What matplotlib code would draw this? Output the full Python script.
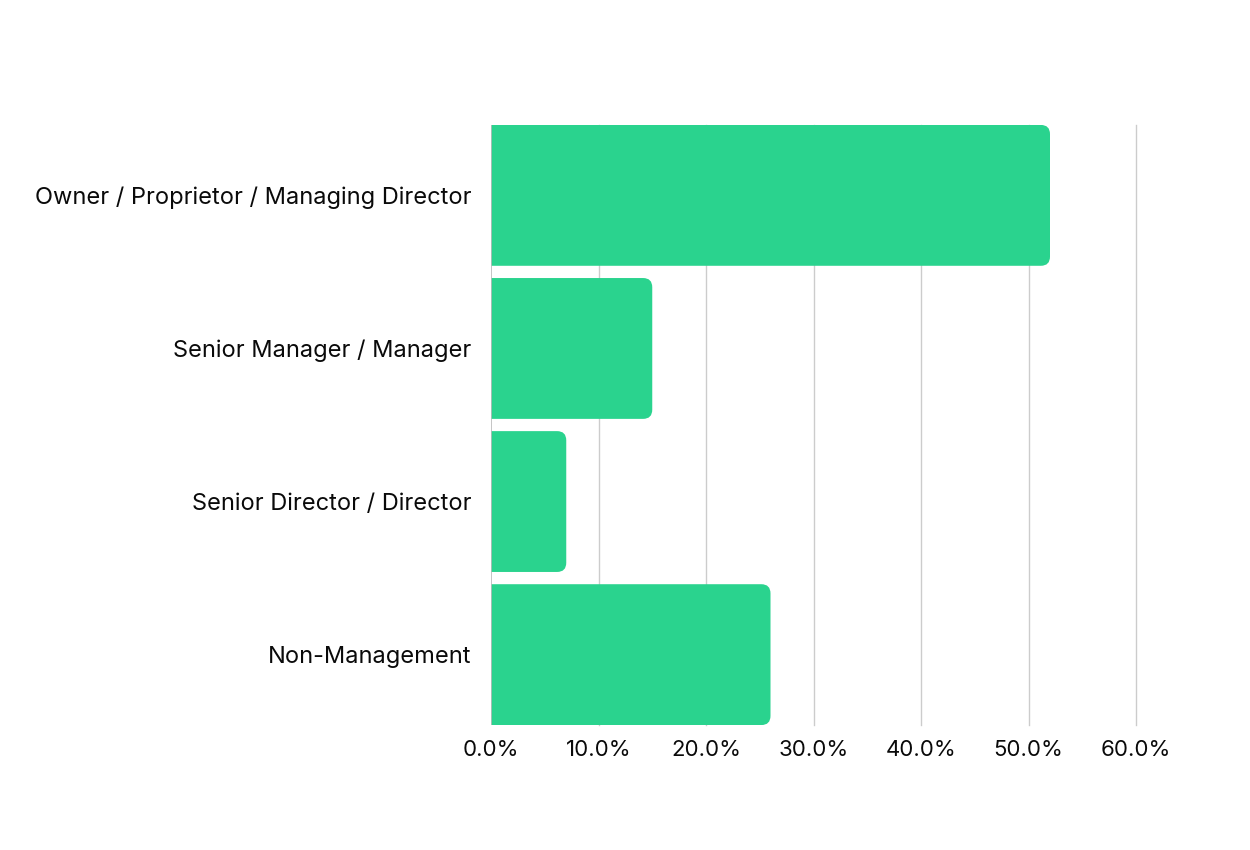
import matplotlib.pyplot as plt
from matplotlib.patches import PathPatch
from matplotlib.path import Path
from matplotlib.ticker import FuncFormatter

plt.rcParams['font.family'] = ['Inter', 'DejaVu Sans']

categories = ["Owner / Proprietor / Managing Director", "Senior Manager / Manager",
              "Senior Director / Director", "Non-Management"]
values = [52.0, 15.0, 7.0, 26.0]
xticks = [0, 10, 20, 30, 40, 50, 60]

GREEN = "#2ad38e"
BAR_H = 0.92


def right_rounded_bar(y0, w, h, rx, ry):
    # bar with square left end and rounded right corners
    verts = [(0, y0), (w - rx, y0), (w, y0), (w, y0 + ry),
             (w, y0 + h - ry), (w, y0 + h), (w - rx, y0 + h),
             (0, y0 + h), (0, y0)]
    codes = [Path.MOVETO, Path.LINETO, Path.CURVE3, Path.CURVE3,
             Path.LINETO, Path.CURVE3, Path.CURVE3,
             Path.LINETO, Path.CLOSEPOLY]
    return Path(verts, codes)


fig = plt.figure(figsize=(12.5, 8.5), dpi=100)
ax = fig.add_axes([0.3928, 0.147, 0.516, 0.706])

ax.set_xlim(0, 60)
ax.set_ylim(len(categories) - 1 + BAR_H / 2, -BAR_H / 2)

for i, v in enumerate(values):
    p = right_rounded_bar(i - BAR_H / 2, v, BAR_H, 0.85, 0.06)
    ax.add_patch(PathPatch(p, fc=GREEN, ec="none", zorder=3))

ax.set_yticks(range(len(categories)))
ax.set_yticklabels(categories)
ax.set_xticks(xticks)
ax.xaxis.set_major_formatter(FuncFormatter(lambda x, p: f"{x:.1f}%"))

for x in xticks[1:]:
    ax.axvline(x, color="#cccccc", lw=1, zorder=1, clip_on=False)
ax.axvline(0, color="#bbbbbb", lw=1.2, zorder=4)

for s in ax.spines.values():
    s.set_visible(False)
ax.tick_params(axis="y", length=0, labelsize=17, colors="#0a0a0a", pad=14)
ax.tick_params(axis="x", length=0, labelsize=16, colors="#0a0a0a", pad=11)

fig.savefig("out.png", dpi=100, facecolor="white")
